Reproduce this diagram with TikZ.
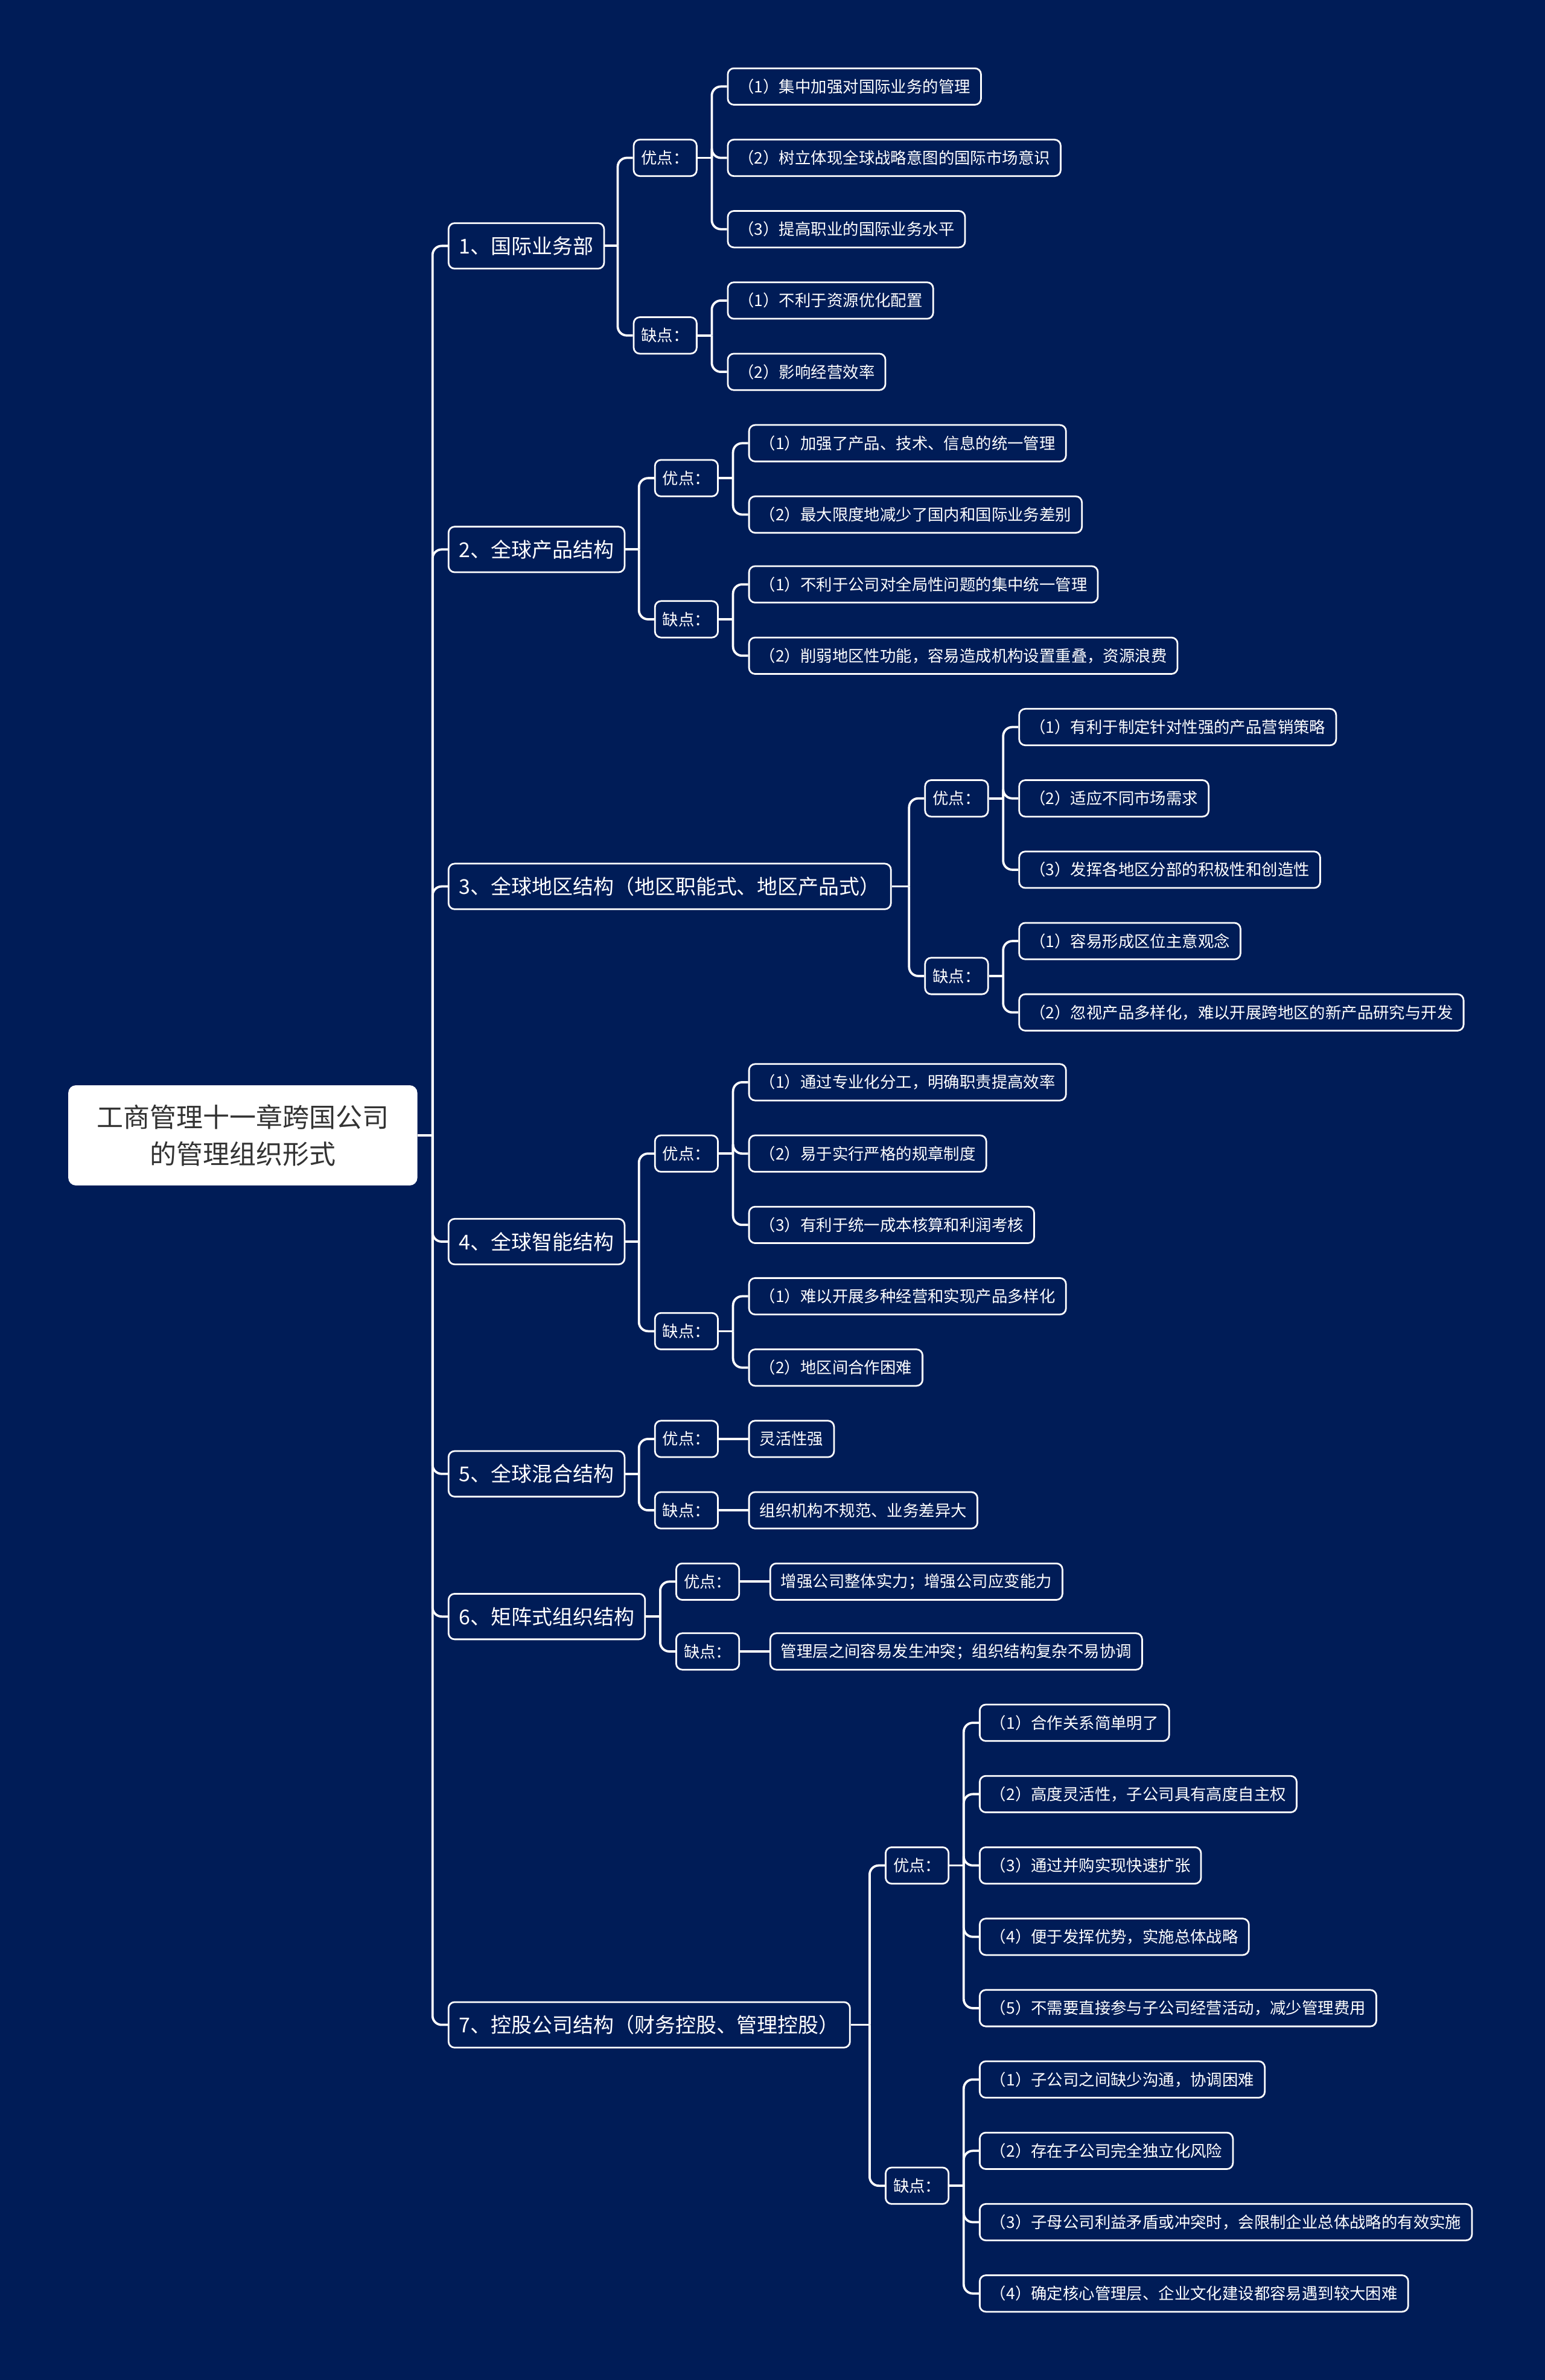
\documentclass[tikz,border=0pt]{standalone}
\usepackage{fontspec}
\setmainfont{Noto Sans CJK SC}
\definecolor{bgnavy}{HTML}{001C57}
\definecolor{rootink}{HTML}{333333}

\begin{document}
\begin{tikzpicture}[x=1pt, y=-1pt,
    box/.style={draw=white, line width=1.1pt, rounded corners=4pt, fill=bgnavy,
        text=white, anchor=west, inner ysep=0pt},
    topic/.style={box, minimum height=30pt, inner xsep=7pt, font=\fontsize{13.5}{16}\selectfont},
    side/.style={box, minimum height=24pt, inner xsep=5pt, font=\fontsize{10.5}{12}\selectfont},
    leaf/.style={box, minimum height=24pt, inner xsep=7pt, font=\fontsize{10.5}{12}\selectfont},
    link/.style={draw=white, line width=1.5pt},
    elbow/.style={link, rounded corners=6pt}]

    % Background
    \fill[bgnavy] (0,0) rectangle (1018,1568);
    \useasboundingbox (0,0) rectangle (1018,1568);

    % Root
    \node[fill=white, rounded corners=5pt, text=rootink, align=center,
        minimum width=230pt, minimum height=66pt,
        font=\fontsize{17.5}{24}\selectfont] (root) at (160,748)
        {工商管理十一章跨国公司\\的管理组织形式};

    % Main branches
    \node[topic] (t1) at (295,162) {1、国际业务部};
    \node[topic] (t2) at (295,362) {2、全球产品结构};
    \node[topic] (t3) at (295,584) {3、全球地区结构（地区职能式、地区产品式）};
    \node[topic] (t4) at (295,818) {4、全球智能结构};
    \node[topic] (t5) at (295,971) {5、全球混合结构};
    \node[topic] (t6) at (295,1065) {6、矩阵式组织结构};
    \node[topic] (t7) at (295,1334) {7、控股公司结构（财务控股、管理控股）};

    % Pros and cons
    \node[side] (p1) at (417,104) {优点：};
    \node[side] (c1) at (417,221) {缺点：};
    \node[side] (p2) at (431,315) {优点：};
    \node[side] (c2) at (431,408) {缺点：};
    \node[side] (p3) at (609,526) {优点：};
    \node[side] (c3) at (609,643) {缺点：};
    \node[side] (p4) at (431,760) {优点：};
    \node[side] (c4) at (431,877) {缺点：};
    \node[side] (p5) at (431,948) {优点：};
    \node[side] (c5) at (431,995) {缺点：};
    \node[side] (p6) at (445,1042) {优点：};
    \node[side] (c6) at (445,1088) {缺点：};
    \node[side] (p7) at (583,1229) {优点：};
    \node[side] (c7) at (583,1440) {缺点：};

    % Leaves, group 1
    \node[leaf] (l1) at (479,57) {（1）集中加强对国际业务的管理};
    \node[leaf] (l2) at (479,104) {（2）树立体现全球战略意图的国际市场意识};
    \node[leaf] (l3) at (479,151) {（3）提高职业的国际业务水平};
    \node[leaf] (l4) at (479,198) {（1）不利于资源优化配置};
    \node[leaf] (l5) at (479,245) {（2）影响经营效率};
    % group 2
    \node[leaf] (l6) at (493,292) {（1）加强了产品、技术、信息的统一管理};
    \node[leaf] (l7) at (493,339) {（2）最大限度地减少了国内和国际业务差别};
    \node[leaf] (l8) at (493,385) {（1）不利于公司对全局性问题的集中统一管理};
    \node[leaf] (l9) at (493,432) {（2）削弱地区性功能，容易造成机构设置重叠，资源浪费};
    % group 3
    \node[leaf] (l10) at (671,479) {（1）有利于制定针对性强的产品营销策略};
    \node[leaf] (l11) at (671,526) {（2）适应不同市场需求};
    \node[leaf] (l12) at (671,573) {（3）发挥各地区分部的积极性和创造性};
    \node[leaf] (l13) at (671,620) {（1）容易形成区位主意观念};
    \node[leaf] (l14) at (671,667) {（2）忽视产品多样化，难以开展跨地区的新产品研究与开发};
    % group 4
    \node[leaf] (l15) at (493,713) {（1）通过专业化分工，明确职责提高效率};
    \node[leaf] (l16) at (493,760) {（2）易于实行严格的规章制度};
    \node[leaf] (l17) at (493,807) {（3）有利于统一成本核算和利润考核};
    \node[leaf] (l18) at (493,854) {（1）难以开展多种经营和实现产品多样化};
    \node[leaf] (l19) at (493,901) {（2）地区间合作困难};
    % group 5 and 6
    \node[leaf] (l20) at (493,948) {灵活性强};
    \node[leaf] (l21) at (493,995) {组织机构不规范、业务差异大};
    \node[leaf] (l22) at (507,1042) {增强公司整体实力；增强公司应变能力};
    \node[leaf] (l23) at (507,1088) {管理层之间容易发生冲突；组织结构复杂不易协调};
    % group 7
    \node[leaf] (l24) at (645,1135) {（1）合作关系简单明了};
    \node[leaf] (l25) at (645,1182) {（2）高度灵活性，子公司具有高度自主权};
    \node[leaf] (l26) at (645,1229) {（3）通过并购实现快速扩张};
    \node[leaf] (l27) at (645,1276) {（4）便于发挥优势，实施总体战略};
    \node[leaf] (l28) at (645,1323) {（5）不需要直接参与子公司经营活动，减少管理费用};
    \node[leaf] (l29) at (645,1370) {（1）子公司之间缺少沟通，协调困难};
    \node[leaf] (l30) at (645,1417) {（2）存在子公司完全独立化风险};
    \node[leaf] (l31) at (645,1464) {（3）子母公司利益矛盾或冲突时，会限制企业总体战略的有效实施};
    \node[leaf] (l32) at (645,1511) {（4）确定核心管理层、企业文化建设都容易遇到较大困难};

    % Connectors
    \foreach \p/\c in {root/t1, root/t2, root/t3, root/t4, root/t5, root/t6, root/t7,
        t1/p1, t1/c1, t2/p2, t2/c2, t3/p3, t3/c3, t4/p4, t4/c4,
        t5/p5, t5/c5, t6/p6, t6/c6, t7/p7, t7/c7,
        p1/l1, p1/l2, p1/l3, c1/l4, c1/l5, p2/l6, p2/l7, c2/l8, c2/l9,
        p3/l10, p3/l11, p3/l12, c3/l13, c3/l14,
        p4/l15, p4/l16, p4/l17, c4/l18, c4/l19,
        p7/l24, p7/l25, p7/l26, p7/l27, p7/l28, c7/l29, c7/l30, c7/l31, c7/l32} {
        \coordinate (j) at ([xshift=-10pt]\p.east -| \c.west);
        \draw[link] (\p.east) -- (j);
        \draw[elbow] (j) |- (\c.west);
    }
    % single children: straight
    \foreach \p/\c in {p5/l20, c5/l21, p6/l22, c6/l23}
        \draw[link] (\p.east) -- (\c.west);
\end{tikzpicture}
\end{document}
